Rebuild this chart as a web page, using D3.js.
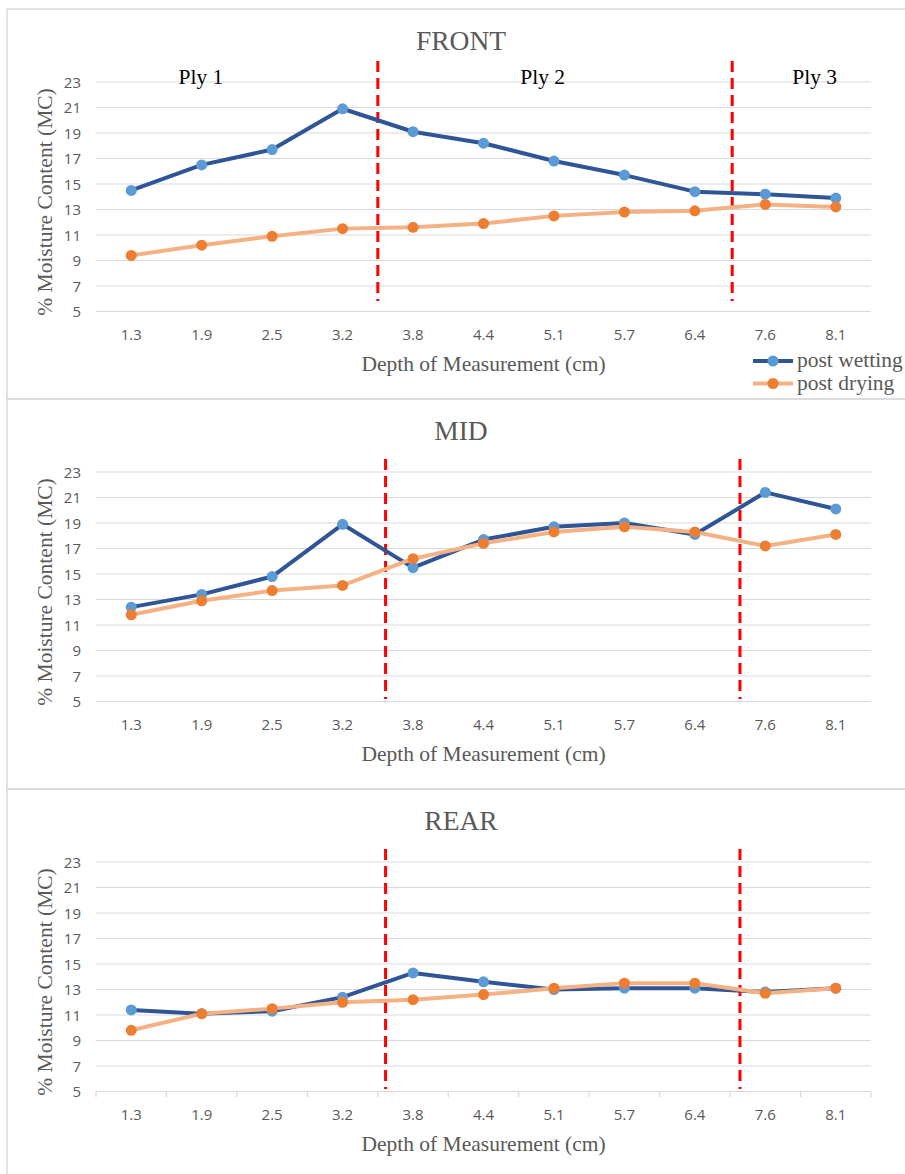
<!DOCTYPE html>
<html lang="en">
<head>
<meta charset="utf-8">
<title>Moisture content by depth</title>
<script src="https://d3js.org/d3.v7.min.js"></script>
<style>
body { margin: 0; background: #fff; }
svg { display: block; }
</style>
</head>
<body>
<script>
// categories (depth of measurement, cm)
const depths = ["1.3", "1.9", "2.5", "3.2", "3.8", "4.4", "5.1", "5.7", "6.4", "7.6", "8.1"];
const yTicks = [5, 7, 9, 11, 13, 15, 17, 19, 21, 23];
const seriesNames = ["post wetting", "post drying"];

// values
const frontWetting = [14.5, 16.5, 17.7, 20.9, 19.1, 18.2, 16.8, 15.7, 14.4, 14.2, 13.9];
const frontDrying  = [9.4, 10.2, 10.9, 11.5, 11.6, 11.9, 12.5, 12.8, 12.9, 13.4, 13.2];
const midWetting   = [12.4, 13.4, 14.8, 18.9, 15.5, 17.7, 18.7, 19.0, 18.1, 21.4, 20.1];
const midDrying    = [11.8, 12.9, 13.7, 14.1, 16.2, 17.4, 18.3, 18.7, 18.3, 17.2, 18.1];
const rearWetting  = [11.4, 11.1, 11.3, 12.4, 14.3, 13.6, 13.0, 13.1, 13.1, 12.8, 13.1];
const rearDrying   = [9.8, 11.1, 11.5, 12.0, 12.2, 12.6, 13.1, 13.5, 13.5, 12.7, 13.1];

// ply divider positions, in category widths from the left of the axis
const frontDividers = [4.0, 9.03];
const midDividers   = [4.11, 9.14];
const rearDividers  = [4.11, 9.14];
const plyLabels = ["Ply 1", "Ply 2", "Ply 3"];
const plyAt = [1.49, 6.34, 10.2];

const panels = [
  { title: "FRONT", wet: frontWetting, dry: frontDrying, div: frontDividers, top: 9, plies: true, legend: true, ticks: false, divTop: 52, divBot: 292 },
  { title: "MID", wet: midWetting, dry: midDrying, div: midDividers, top: 399, plies: false, legend: false, ticks: false, divTop: 60, divBot: 300 },
  { title: "REAR", wet: rearWetting, dry: rearDrying, div: rearDividers, top: 789, plies: false, legend: false, ticks: true, divTop: 60, divBot: 300 }
];

const w = 905, h = 1174;
const sans = "'Open Sans', 'Noto Sans', sans-serif";
const serif = "'Liberation Serif', 'Times New Roman', serif";
const grey = "#595959";
const wetLine = "#2f5597", wetDot = "#5b9bd5";
const dryLine = "#f4b183", dryDot = "#ed7d31";

const svg = d3.select("body").append("svg")
  .attr("width", w)
  .attr("height", h);

const x = d3.scaleBand().domain(depths).range([96, 871]);
const xu = d3.scaleLinear().domain([0, depths.length]).range([96, 871]);

panels.forEach(function(p) {
  const g = svg.append("g").attr("transform", "translate(0," + p.top + ")");

  // chart frame
  g.append("rect")
    .attr("x", 7).attr("y", 0)
    .attr("width", 910).attr("height", 390)
    .attr("fill", "none")
    .attr("stroke", "#d9d9d9")
    .attr("stroke-width", 1.5);

  const y = d3.scaleLinear().domain([5, 23]).range([302.5, 73]);

  // gridlines
  g.selectAll(".grid")
    .data(yTicks)
    .enter().append("line")
    .attr("x1", 96).attr("x2", 871)
    .attr("y1", d => y(d)).attr("y2", d => y(d))
    .attr("stroke", "#d9d9d9")
    .attr("stroke-width", 1.2);

  // y tick labels
  g.selectAll(".ylab")
    .data(yTicks)
    .enter().append("text")
    .attr("x", 81)
    .attr("y", d => y(d) + 5.5)
    .attr("text-anchor", "end")
    .attr("font-family", sans)
    .attr("font-size", 15)
    .attr("fill", grey)
    .text(d => d);

  // x tick labels
  g.selectAll(".xlab")
    .data(depths)
    .enter().append("text")
    .attr("x", d => x(d) + x.bandwidth() / 2)
    .attr("y", 331)
    .attr("text-anchor", "middle")
    .attr("font-family", sans)
    .attr("font-size", 15)
    .attr("fill", grey)
    .text(d => d);

  if (p.ticks) {
    g.selectAll(".xtick")
      .data(d3.range(depths.length + 1))
      .enter().append("line")
      .attr("x1", d => xu(d)).attr("x2", d => xu(d))
      .attr("y1", 302.5).attr("y2", 308)
      .attr("stroke", "#d9d9d9")
      .attr("stroke-width", 1.2);
  }

  // titles
  g.append("text")
    .attr("x", 461).attr("y", 41)
    .attr("text-anchor", "middle")
    .attr("font-family", serif)
    .attr("font-size", 27.5)
    .attr("fill", grey)
    .text(p.title);

  g.append("text")
    .attr("x", 483.5).attr("y", 362)
    .attr("text-anchor", "middle")
    .attr("font-family", serif)
    .attr("font-size", 21.5)
    .attr("fill", grey)
    .text("Depth of Measurement (cm)");

  g.append("text")
    .attr("transform", "translate(52," + 193 + ") rotate(-90)")
    .attr("text-anchor", "middle")
    .attr("font-family", serif)
    .attr("font-size", 21.5)
    .attr("fill", grey)
    .text("% Moisture Content (MC)");

  // ply dividers
  g.selectAll(".div")
    .data(p.div)
    .enter().append("line")
    .attr("x1", d => xu(d)).attr("x2", d => xu(d))
    .attr("y1", p.divTop).attr("y2", p.divBot)
    .attr("stroke", "#ff0000")
    .attr("stroke-width", 3)
    .attr("stroke-dasharray", "11,6");

  if (p.plies) {
    g.selectAll(".ply")
      .data(plyLabels)
      .enter().append("text")
      .attr("x", (d, i) => xu(plyAt[i]))
      .attr("y", 75)
      .attr("text-anchor", "middle")
      .attr("font-family", serif)
      .attr("font-size", 21.5)
      .attr("fill", "#000")
      .text(d => d);
  }

  // series
  const line = d3.line()
    .x((d, i) => x(depths[i]) + x.bandwidth() / 2)
    .y(d => y(d));

  [[p.wet, wetLine, wetDot], [p.dry, dryLine, dryDot]].forEach(function(s) {
    g.append("path")
      .datum(s[0])
      .attr("d", line)
      .attr("fill", "none")
      .attr("stroke", s[1])
      .attr("stroke-width", 4)
      .attr("stroke-linejoin", "round");
    g.selectAll(null)
      .data(s[0])
      .enter().append("circle")
      .attr("cx", (d, i) => x(depths[i]) + x.bandwidth() / 2)
      .attr("cy", d => y(d))
      .attr("r", 5.5)
      .attr("fill", s[2]);
  });

  if (p.legend) {
    const lg = g.append("g").attr("transform", "translate(753,352)");
    seriesNames.forEach(function(name, i) {
      const ly = i * 22.5;
      lg.append("line")
        .attr("x1", 0).attr("x2", 40)
        .attr("y1", ly).attr("y2", ly)
        .attr("stroke", i === 0 ? wetLine : dryLine)
        .attr("stroke-width", 4);
      lg.append("circle")
        .attr("cx", 20).attr("cy", ly)
        .attr("r", 5.5)
        .attr("fill", i === 0 ? wetDot : dryDot);
      lg.append("text")
        .attr("x", 44).attr("y", ly + 6)
        .attr("font-family", serif)
        .attr("font-size", 21.5)
        .attr("fill", grey)
        .text(name);
    });
  }
});
</script>
</body>
</html>
